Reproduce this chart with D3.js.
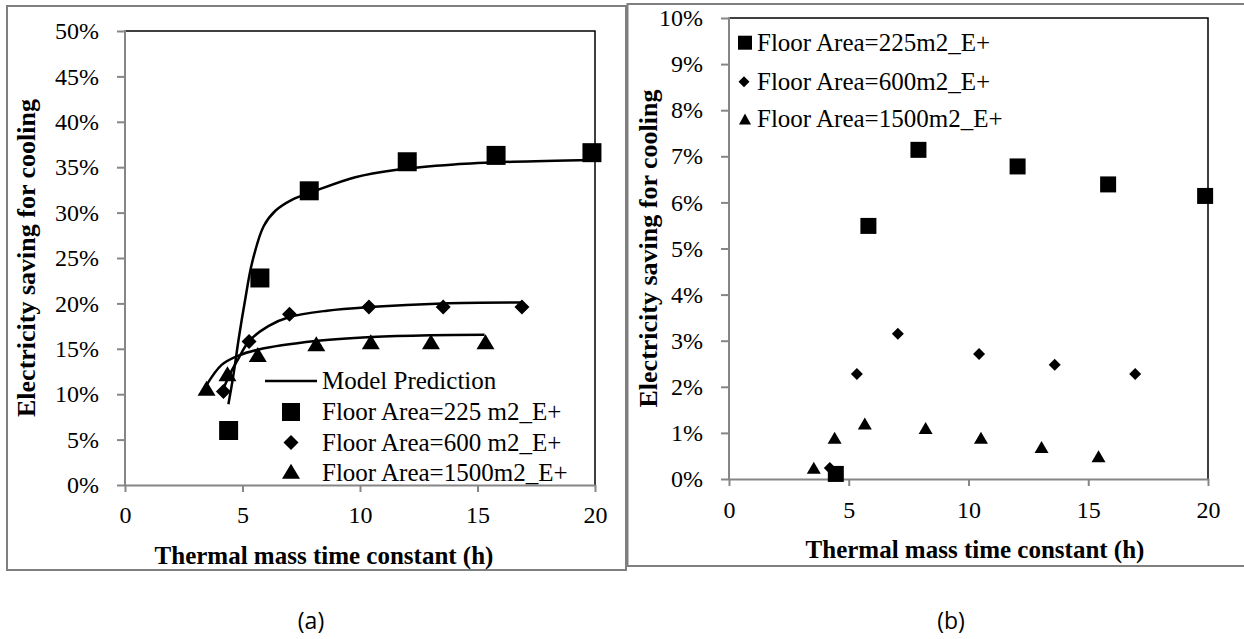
<!DOCTYPE html>
<html>
<head>
<meta charset="utf-8">
<script src="https://cdn.jsdelivr.net/npm/d3@7"></script>
<style>
  body { margin: 0; background: #fff; }
  svg { display: block; }
  .tick text { font-family: 'Liberation Serif', 'Times New Roman', serif; font-size: 24px; fill: #000; }
</style>
</head>
<body>
<svg width="1244" height="639"></svg>
<script>
// x = thermal mass time constant (h), y = saving fraction
// (a) EnergyPlus points
var a225 = [[4.41, 0.060], [5.74, 0.228], [7.84, 0.324], [12.01, 0.356], [15.79, 0.363], [19.87, 0.366]];
var a600 = [[4.19, 0.103], [5.28, 0.158], [7.0, 0.188], [10.38, 0.196], [13.54, 0.196], [16.89, 0.196]];
var a1500 = [[3.47, 0.105], [4.36, 0.121], [5.65, 0.142], [8.14, 0.154], [10.46, 0.156], [13.02, 0.156], [15.34, 0.156]];
// (a) model prediction curves
var m225 = [[4.40, 0.089], [4.6, 0.119], [4.85, 0.163], [5.1, 0.202], [5.4, 0.244], [5.9, 0.285], [6.4, 0.302],
            [7.1, 0.314], [8.1, 0.324], [9.8, 0.339], [11.5, 0.347], [14.0, 0.353], [16.5, 0.356], [19.9, 0.358]];
var m600 = [[4.17, 0.105], [4.5, 0.124], [4.78, 0.137], [5.28, 0.1585], [6.1, 0.175], [7.0, 0.185],
            [8.6, 0.192], [10.4, 0.196], [13.5, 0.200], [16.9, 0.201]];
var m1500 = [[3.47, 0.110], [4.1, 0.132], [4.78, 0.142], [5.65, 0.149], [8.1, 0.1585], [10.5, 0.163],
             [13.0, 0.165], [15.3, 0.1655]];
// (b) points
var b225 = [[4.46, 0.0011], [5.82, 0.0549], [7.91, 0.0714], [12.05, 0.0678], [15.83, 0.0639], [19.88, 0.0614]];
var b600 = [[4.21, 0.0024], [5.34, 0.0228], [7.05, 0.0315], [10.44, 0.0271], [13.6, 0.0248], [16.96, 0.0228]];
var b1500 = [[3.54, 0.0022], [4.41, 0.0087], [5.67, 0.0118], [8.21, 0.0108], [10.52, 0.0087], [13.05, 0.0067], [15.43, 0.0047]];

var xTicks = [0, 5, 10, 15, 20];
var yTicksA = [0, 0.05, 0.1, 0.15, 0.2, 0.25, 0.3, 0.35, 0.4, 0.45, 0.5];
var yTicksB = [0, 0.01, 0.02, 0.03, 0.04, 0.05, 0.06, 0.07, 0.08, 0.09, 0.1];
var legendA = ["Model Prediction", "Floor Area=225 m2_E+", "Floor Area=600 m2_E+", "Floor Area=1500m2_E+"];
var legendB = ["Floor Area=225m2_E+", "Floor Area=600m2_E+", "Floor Area=1500m2_E+"];
var xTitle = "Thermal mass time constant (h)";
var yTitle = "Electricity saving for cooling";

var svg = d3.select("svg");
var serif = "'Liberation Serif', 'Times New Roman', serif";
var gray = "#868686";

// marker paths centered at 0,0
function square(s) { var h = s / 2; return "M" + -h + "," + -h + "H" + h + "V" + h + "H" + -h + "Z"; }
function diamond(s) { var h = s / 2; return "M0," + -h + "L" + h + ",0L0," + h + "L" + -h + ",0Z"; }
function triangle(w, ht) { return "M0," + (-ht * 0.6) + "L" + (w / 2) + "," + (ht * 0.4) + "L" + (-w / 2) + "," + (ht * 0.4) + "Z"; }

// outer frames
svg.append("rect").attr("x", 7).attr("y", 6).attr("width", 619).attr("height", 564)
  .attr("fill", "none").attr("stroke", "#7f7f7f").attr("stroke-width", 2);
svg.append("rect").attr("x", 627.5).attr("y", 4).attr("width", 620).attr("height", 562)
  .attr("fill", "none").attr("stroke", "#7f7f7f").attr("stroke-width", 2);

function drawPanel(x, y, yTicks, pad, ytitleX, xtitleX) {
  var g = svg.append("g");
  var r = x.range(), t = y.range();
  // top and right border
  g.append("path").attr("d", "M" + r[0] + "," + t[1] + "H" + r[1] + "V" + t[0])
    .attr("fill", "none").attr("stroke", "#000").attr("stroke-width", 1.5);

  var ya = g.append("g").attr("transform", "translate(" + r[0] + ",0)")
    .call(d3.axisLeft(y).tickValues(yTicks).tickSize(8).tickPadding(18).tickFormat(d3.format(".0%")));
  var xa = g.append("g").attr("transform", "translate(0," + t[0] + ")")
    .call(d3.axisBottom(x).tickValues(xTicks).tickSize(7).tickPadding(pad).tickSizeOuter(0));
  [ya, xa].forEach(function (a) {
    a.attr("font-family", serif).attr("font-size", 24);
    a.selectAll(".domain, .tick line").attr("stroke", gray).attr("stroke-width", 2);
  });
  ya.select(".domain").attr("d", "M0," + (t[1] - 1) + "V" + t[0]);

  g.append("text").attr("x", xtitleX).attr("y", t[0] + 79)
    .attr("text-anchor", "middle").attr("font-family", serif).attr("font-weight", "bold")
    .attr("font-size", 25).text(xTitle);
  g.append("text")
    .attr("transform", "translate(" + ytitleX + "," + ((t[0] + t[1]) / 2) + ") rotate(-90)")
    .attr("dy", "0.33em").attr("text-anchor", "middle").attr("font-family", serif)
    .attr("font-weight", "bold").attr("font-size", 26).text(yTitle);
  return g;
}

function points(g, x, y, data, d) {
  g.selectAll(null).data(data).enter().append("path")
    .attr("transform", function (p) { return "translate(" + x(p[0]) + "," + y(p[1]) + ")"; })
    .attr("d", d).attr("fill", "#000");
}

// ---- (a)
var xA = d3.scaleLinear().domain([0, 20]).range([125, 595]);
var yA = d3.scaleLinear().domain([0, 0.5]).range([485, 31]);
var gA = drawPanel(xA, yA, yTicksA, 14, 26, 324);

var line = d3.line().x(function (p) { return xA(p[0]); }).y(function (p) { return yA(p[1]); })
  .curve(d3.curveCatmullRom.alpha(0.5));
[m225, m600, m1500].forEach(function (m) {
  gA.append("path").datum(m).attr("d", line).attr("fill", "none")
    .attr("stroke", "#000").attr("stroke-width", 2.5);
});
points(gA, xA, yA, a225, square(19));
points(gA, xA, yA, a600, diamond(15));
points(gA, xA, yA, a1500, triangle(18, 15));

var legA = gA.append("g").attr("font-family", serif).attr("font-size", 25);
var rowsA = [381, 412, 442.5, 472.7];
legA.append("line").attr("x1", 265).attr("x2", 317).attr("y1", rowsA[0]).attr("y2", rowsA[0])
  .attr("stroke", "#000").attr("stroke-width", 2.5);
legA.append("path").attr("transform", "translate(291," + rowsA[1] + ")").attr("d", square(18));
legA.append("path").attr("transform", "translate(291," + rowsA[2] + ")").attr("d", diamond(15));
legA.append("path").attr("transform", "translate(291," + rowsA[3] + ")").attr("d", triangle(18, 15));
legA.selectAll("text").data(legendA).enter().append("text")
  .attr("x", 322).attr("y", function (d, i) { return rowsA[i]; }).attr("dy", "0.33em").text(function (d) { return d; });

// ---- (b)
var xB = d3.scaleLinear().domain([0, 20]).range([729, 1208]);
var yB = d3.scaleLinear().domain([0, 0.1]).range([479, 18]);
var gB = drawPanel(xB, yB, yTicksB, 15, 648, 975);
points(gB, xB, yB, b225, square(16));
points(gB, xB, yB, b600, diamond(12));
points(gB, xB, yB, b1500, triangle(14, 12));

var legB = gB.append("g").attr("font-family", serif).attr("font-size", 25);
var rowsB = [42.7, 81.7, 119];
legB.append("path").attr("transform", "translate(745," + rowsB[0] + ")").attr("d", square(14));
legB.append("path").attr("transform", "translate(744," + rowsB[1] + ")").attr("d", diamond(11));
legB.append("path").attr("transform", "translate(745," + (rowsB[2] + 1) + ")").attr("d", triangle(12, 11));
legB.selectAll("text").data(legendB).enter().append("text")
  .attr("x", 757).attr("y", function (d, i) { return rowsB[i]; }).attr("dy", "0.33em").text(function (d) { return d; });

// captions
svg.selectAll(".cap").data(["(a)", "(b)"]).enter().append("text")
  .attr("x", function (d, i) { return i ? 951 : 311; }).attr("y", 621).attr("dy", "0.35em")
  .attr("text-anchor", "middle").attr("font-family", "'Open Sans', 'Noto Sans', sans-serif")
  .attr("font-size", 23).text(function (d) { return d; });
</script>
</body>
</html>
